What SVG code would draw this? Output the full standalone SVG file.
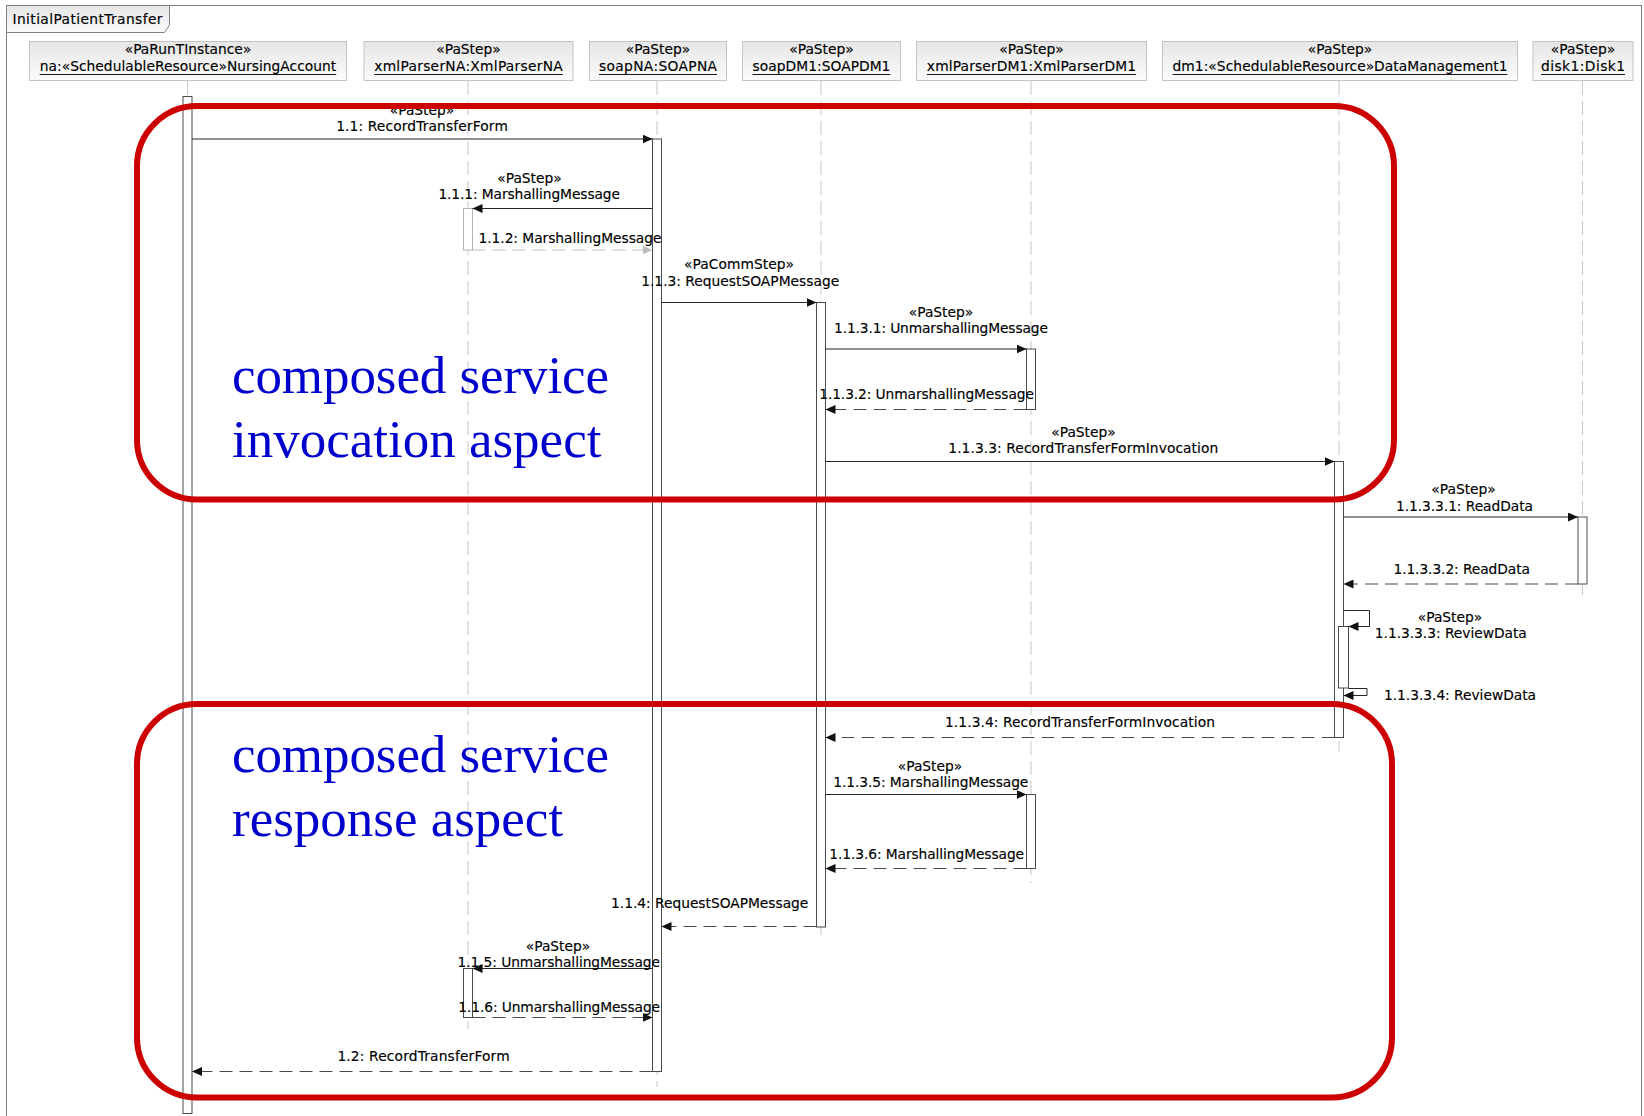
<svg xmlns="http://www.w3.org/2000/svg" width="1644" height="1116" viewBox="0 0 1644 1116">
  <style>
    .lbl { font-family: "DejaVu Sans", "Liberation Sans", sans-serif; font-size: 13.8px; fill: #000000; stroke: #000000; stroke-width: 0.15; text-anchor: middle; }
    .tab { font-family: "DejaVu Sans", "Liberation Sans", sans-serif; font-size: 13.8px; fill: #000000; stroke: #000000; stroke-width: 0.15; }
    .head { fill: url(#headFill); stroke: #c4c4c4; stroke-width: 1; }
    .uline { stroke: #1a1a1a; stroke-width: 1; }
    .life { stroke: #c8c8c8; stroke-width: 1; stroke-dasharray: 14 6; fill: none; }
    .bar { fill: #ffffff; stroke: #4a4a4a; stroke-width: 1; }
    .bar-light { fill: #ffffff; stroke: #b4b4b4; stroke-width: 1; }
    .msg { stroke: #262626; stroke-width: 1; fill: none; marker-end: url(#arrow); }
    .ret { stroke: #4a4a4a; stroke-width: 1; fill: none; stroke-dasharray: 13 7; marker-end: url(#arrow); }
    .ret-light { stroke: #bdbdbd; stroke-width: 1; fill: none; stroke-dasharray: 13 7; marker-end: url(#arrowLight); }
    .aspect { fill: none; stroke: #cc0000; stroke-width: 6; }
    .note { font-family: "Liberation Serif", "Times New Roman", serif; font-size: 53px; fill: #0000cc; }
  </style>
  <defs>
    <linearGradient id="headFill" x1="0" y1="0" x2="0" y2="1">
      <stop offset="0" stop-color="#e6e6e6"/>
      <stop offset="1" stop-color="#fbfbfb"/>
    </linearGradient>
    <marker id="arrow" markerUnits="userSpaceOnUse" markerWidth="10" markerHeight="9" refX="10" refY="4.5" orient="auto">
      <path d="M0,0 L10,4.5 L0,9 Z" fill="#111111"/>
    </marker>
    <marker id="arrowLight" markerUnits="userSpaceOnUse" markerWidth="10" markerHeight="9" refX="10" refY="4.5" orient="auto">
      <path d="M0,0 L10,4.5 L0,9 Z" fill="#bdbdbd"/>
    </marker>
  </defs>

  <rect x="0" y="0" width="1644" height="1116" fill="#ffffff"/>

  <!-- interaction frame -->
  <g id="frame">
    <rect x="6.5" y="5.5" width="1635" height="1130" fill="none" stroke="#808080" stroke-width="1"/>
    <path d="M6.5,5.5 H169.5 V25 L164.5,32.5 H6.5 Z" fill="url(#headFill)" stroke="#808080" stroke-width="1"/>
    <text class="tab" x="12.5" y="24" textLength="150">InitialPatientTransfer</text>
  </g>

  <!-- lifelines -->
  <g id="na">
    <rect class="head" x="29.5" y="41.5" width="317" height="39"/>
    <text class="lbl" x="188" y="54">«PaRunTInstance»</text>
    <text class="lbl" x="188" y="71" textLength="296.5">na:«SchedulableResource»NursingAccount</text>
    <line class="uline" x1="39.7" y1="74.5" x2="336.2" y2="74.5"/>
    <line class="life" x1="187.5" y1="81" x2="187.5" y2="96"/>
    <rect class="bar" x="183" y="96.5" width="9" height="1017"/>
  </g>

  <g id="xmlParserNA">
    <rect class="head" x="364" y="41.5" width="209" height="39"/>
    <text class="lbl" x="468.5" y="54">«PaStep»</text>
    <text class="lbl" x="468.5" y="71" textLength="188.6">xmlParserNA:XmlParserNA</text>
    <line class="uline" x1="374.2" y1="74.5" x2="562.8" y2="74.5"/>
    <line class="life" x1="468" y1="81" x2="468" y2="1029"/>
    <rect class="bar-light" x="463.5" y="208.5" width="9" height="41.5"/>
    <rect class="bar" x="463.5" y="968.5" width="9" height="49"/>
  </g>

  <g id="soapNA">
    <rect class="head" x="589.5" y="41.5" width="137" height="39"/>
    <text class="lbl" x="658" y="54">«PaStep»</text>
    <text class="lbl" x="658" y="71" textLength="118">soapNA:SOAPNA</text>
    <line class="uline" x1="599" y1="74.5" x2="717" y2="74.5"/>
    <line class="life" x1="657" y1="81" x2="657" y2="1087"/>
    <rect class="bar" x="652.5" y="139" width="9" height="932.5"/>
  </g>

  <g id="soapDM1">
    <rect class="head" x="742.5" y="41.5" width="158" height="39"/>
    <text class="lbl" x="821.5" y="54">«PaStep»</text>
    <text class="lbl" x="821.5" y="71" textLength="137.8">soapDM1:SOAPDM1</text>
    <line class="uline" x1="752.6" y1="74.5" x2="890.4" y2="74.5"/>
    <line class="life" x1="821" y1="81" x2="821" y2="939"/>
    <rect class="bar" x="816.5" y="302.5" width="9" height="624.5"/>
  </g>

  <g id="xmlParserDM1">
    <rect class="head" x="916.5" y="41.5" width="230" height="39"/>
    <text class="lbl" x="1031.5" y="54">«PaStep»</text>
    <text class="lbl" x="1031.5" y="71" textLength="209.3">xmlParserDM1:XmlParserDM1</text>
    <line class="uline" x1="926.9" y1="74.5" x2="1136.1" y2="74.5"/>
    <line class="life" x1="1031" y1="81" x2="1031" y2="883"/>
    <rect class="bar" x="1026.5" y="349" width="9" height="60.5"/>
    <rect class="bar" x="1026.5" y="794.5" width="9" height="74"/>
  </g>

  <g id="dm1">
    <rect class="head" x="1162.5" y="41.5" width="355" height="39"/>
    <text class="lbl" x="1340" y="54">«PaStep»</text>
    <text class="lbl" x="1340" y="71" textLength="335">dm1:«SchedulableResource»DataManagement1</text>
    <line class="uline" x1="1172.5" y1="74.5" x2="1507.5" y2="74.5"/>
    <line class="life" x1="1339" y1="81" x2="1339" y2="752"/>
    <rect class="bar" x="1334.5" y="461.5" width="9" height="276"/>
    <rect class="bar" x="1338.5" y="626.5" width="10" height="61.5"/>
  </g>

  <g id="disk1">
    <rect class="head" x="1533" y="41.5" width="100" height="39"/>
    <text class="lbl" x="1583" y="54">«PaStep»</text>
    <text class="lbl" x="1583" y="71" textLength="84">disk1:Disk1</text>
    <line class="uline" x1="1541" y1="74.5" x2="1625" y2="74.5"/>
    <line class="life" x1="1582.5" y1="81" x2="1582.5" y2="600"/>
    <rect class="bar" x="1578" y="517" width="9" height="67"/>
  </g>

  <!-- messages -->
  <g id="connectors">
    <line class="msg" x1="192" y1="139" x2="652.5" y2="139"/>
    <line class="msg" x1="652.5" y1="208.5" x2="472.5" y2="208.5"/>
    <line class="ret-light" x1="472.5" y1="250" x2="652.5" y2="250"/>
    <line class="msg" x1="661.5" y1="302.5" x2="816.5" y2="302.5"/>
    <line class="msg" x1="825.5" y1="349" x2="1026.5" y2="349"/>
    <line class="ret" x1="1026.5" y1="409.5" x2="825.5" y2="409.5"/>
    <line class="msg" x1="825.5" y1="461.5" x2="1334.5" y2="461.5"/>
    <line class="msg" x1="1343.5" y1="517" x2="1578" y2="517"/>
    <line class="ret" x1="1578" y1="584" x2="1343.5" y2="584"/>
    <path class="msg" d="M1343.5,610.5 H1369.5 V626.5 H1348.5"/>
    <path class="msg" d="M1348.5,688.5 H1367 V695.5 H1343.5"/>
    <line class="ret" x1="1334.5" y1="737.5" x2="825.5" y2="737.5"/>
    <line class="msg" x1="825.5" y1="794.5" x2="1026.5" y2="794.5"/>
    <line class="ret" x1="1026.5" y1="868.5" x2="825.5" y2="868.5"/>
    <line class="ret" x1="816.5" y1="926.5" x2="661.5" y2="926.5"/>
    <line class="msg" x1="652.5" y1="968.5" x2="472.5" y2="968.5"/>
    <line class="ret" x1="472.5" y1="1017.5" x2="652.5" y2="1017.5"/>
    <line class="ret" x1="652.5" y1="1071.5" x2="192" y2="1071.5"/>

    <text class="lbl" x="422" y="115">«PaStep»</text>
    <text class="lbl" x="422" y="130.7" textLength="171.7">1.1: RecordTransferForm</text>
    <text class="lbl" x="529.5" y="182.7">«PaStep»</text>
    <text class="lbl" x="529.2" y="199.3" textLength="181.6">1.1.1: MarshallingMessage</text>
    <text class="lbl" x="570" y="243" textLength="183">1.1.2: MarshallingMessage</text>
    <text class="lbl" x="739" y="269" textLength="110">«PaCommStep»</text>
    <text class="lbl" x="740.2" y="285.7" textLength="198">1.1.3: RequestSOAPMessage</text>
    <text class="lbl" x="941" y="317.3">«PaStep»</text>
    <text class="lbl" x="941" y="333.3" textLength="213.8">1.1.3.1: UnmarshallingMessage</text>
    <text class="lbl" x="926.6" y="399" textLength="214.7">1.1.3.2: UnmarshallingMessage</text>
    <text class="lbl" x="1083.5" y="436.7">«PaStep»</text>
    <text class="lbl" x="1083.3" y="452.7" textLength="270">1.1.3.3: RecordTransferFormInvocation</text>
    <text class="lbl" x="1463.6" y="494">«PaStep»</text>
    <text class="lbl" x="1464.5" y="510.7" textLength="137">1.1.3.3.1: ReadData</text>
    <text class="lbl" x="1461.7" y="574" textLength="136.5">1.1.3.3.2: ReadData</text>
    <text class="lbl" x="1450" y="622.3">«PaStep»</text>
    <text class="lbl" x="1450.8" y="638.3" textLength="152">1.1.3.3.3: ReviewData</text>
    <text class="lbl" x="1460" y="700" textLength="152">1.1.3.3.4: ReviewData</text>
    <text class="lbl" x="1080" y="726.7" textLength="270">1.1.3.4: RecordTransferFormInvocation</text>
    <text class="lbl" x="930" y="771.3">«PaStep»</text>
    <text class="lbl" x="930.8" y="787.3" textLength="195">1.1.3.5: MarshallingMessage</text>
    <text class="lbl" x="926.7" y="858.7" textLength="194.7">1.1.3.6: MarshallingMessage</text>
    <text class="lbl" x="709.7" y="908.3" textLength="197.3">1.1.4: RequestSOAPMessage</text>
    <text class="lbl" x="558" y="950.7">«PaStep»</text>
    <text class="lbl" x="558.8" y="966.7" textLength="202.5">1.1.5: UnmarshallingMessage</text>
    <text class="lbl" x="559.2" y="1011.7" textLength="201.7">1.1.6: UnmarshallingMessage</text>
    <text class="lbl" x="423.5" y="1060.7" textLength="172.2">1.2: RecordTransferForm</text>
  </g>

  <!-- highlighted aspects -->
  <g id="invocation-aspect">
    <rect class="aspect" x="137" y="106" width="1257" height="393.5" rx="60" ry="60"/>
    <text class="note" x="232" y="392.7" textLength="377">composed service</text>
    <text class="note" x="232" y="456.7">invocation aspect</text>
  </g>
  <g id="response-aspect">
    <rect class="aspect" x="137" y="704" width="1255" height="393.5" rx="60" ry="60"/>
    <text class="note" x="232" y="771.7" textLength="377">composed service</text>
    <text class="note" x="232" y="836">response aspect</text>
  </g>
</svg>
